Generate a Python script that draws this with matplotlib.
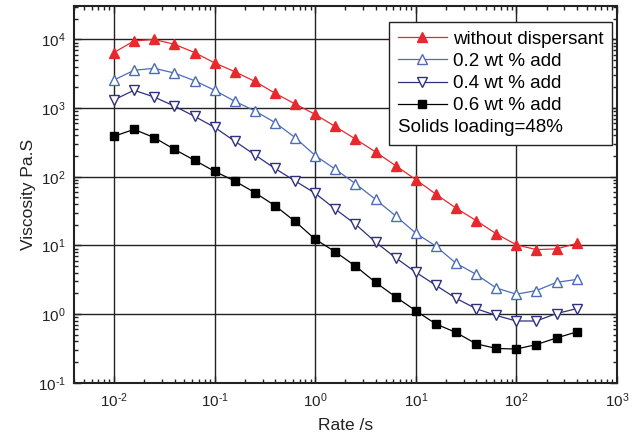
import matplotlib
matplotlib.use('Agg')
import matplotlib.pyplot as plt
from matplotlib.ticker import LogLocator, FuncFormatter
import numpy as np

plt.rcParams['font.family'] = ['Liberation Sans', 'DejaVu Sans']
plt.rcParams['axes.unicode_minus'] = False

# shear rate (1/s), 5 points per decade
rate = [0.01, 0.0158, 0.0251, 0.0398, 0.0631, 0.1, 0.158, 0.251, 0.398, 0.631,
        1, 1.58, 2.51, 3.98, 6.31, 10, 15.8, 25.1, 39.8, 63.1,
        100, 158, 251, 398]

# viscosity (Pa.s)
no_disp = [6450, 9500, 10000, 8500, 6450, 4550, 3400, 2450, 1650, 1150,
           810, 540, 355, 230, 145, 91, 56, 35, 23, 14.8,
           10.2, 8.7, 8.9, 10.7]
add_02 = [2570, 3550, 3800, 3240, 2510, 1820, 1260, 912, 617, 372,
          204, 129, 79.4, 46.8, 26.9, 15.1, 9.8, 5.5, 3.8, 2.4,
          1.95, 2.2, 2.9, 3.2]
add_04 = [1320, 1820, 1450, 1070, 759, 525, 331, 209, 132, 87,
          57.5, 33.9, 20.4, 11.2, 6.6, 4.07, 2.63, 1.70, 1.20, 0.955,
          0.794, 0.794, 1.02, 1.20]
add_06 = [389, 490, 372, 251, 174, 120, 87, 58.9, 38, 22.4,
          12.3, 8.1, 5.0, 2.9, 1.78, 1.12, 0.72, 0.54, 0.37, 0.316,
          0.31, 0.36, 0.45, 0.55]

labels = ['without dispersant', '0.2 wt % add', '0.4 wt % add', '0.6 wt % add']


def pow10_label(v, pos):
    # short hyphen for negative exponents
    e = int(round(np.log10(v)))
    return r'$\mathdefault{10^{%s}}$' % (str(e).replace('-', '\u2010'))


fig = plt.figure(figsize=(6.38, 4.41), dpi=100)
ax = fig.add_axes([0.116, 0.132, 0.851, 0.854])

ax.plot(rate, no_disp, color='#e8282d', lw=0.9, marker='^', ms=7,
        mfc='#e8282d', mec='#e8282d', label=labels[0])
ax.plot(rate, add_02, color='#4b6db5', lw=0.9, marker='^', ms=7,
        mfc='white', mec='#4b6db5', mew=1.0, label=labels[1])
ax.plot(rate, add_04, color='#303080', lw=0.9, marker='v', ms=7,
        mfc='white', mec='#303080', mew=1.0, label=labels[2])
ax.plot(rate, add_06, color='black', lw=0.9, marker='s', ms=5.8,
        mfc='black', mec='black', label=labels[3])

ax.set_xscale('log')
ax.set_yscale('log')
ax.set_xlim(0.004, 1000)
ax.set_ylim(0.1, 30500)

ax.xaxis.set_major_locator(LogLocator(base=10, numticks=20))
ax.yaxis.set_major_locator(LogLocator(base=10, numticks=20))
ax.xaxis.set_minor_locator(LogLocator(base=10, subs=range(2, 10), numticks=20))
ax.yaxis.set_minor_locator(LogLocator(base=10, subs=range(2, 10), numticks=20))
ax.xaxis.set_major_formatter(FuncFormatter(pow10_label))
ax.yaxis.set_major_formatter(FuncFormatter(pow10_label))

ax.grid(True, which='major', color='#222222', lw=1.0)
ax.set_axisbelow(True)

ax.tick_params(which='both', direction='in', top=True, right=True,
               labelsize=11, colors='#222222', width=1.0)
ax.tick_params(which='major', length=5, pad=6)
ax.tick_params(which='minor', length=3)
for sp in ax.spines.values():
    sp.set_linewidth(1.5)
    sp.set_color('#222222')

ax.set_xlabel('Rate /s', fontsize=12.5, color='#222222', labelpad=6)
ax.set_ylabel('Viscosity Pa.S', fontsize=12.5, color='#222222', labelpad=1)

leg = ax.legend(loc='upper right', bbox_to_anchor=(0.991, 0.9576),
                borderaxespad=0,
                fontsize=13.5, title='Solids loading=48%', title_fontsize=13.5,
                alignment='left', handlelength=2.6, handletextpad=0.35,
                labelspacing=0.27, borderpad=0.45, fancybox=False,
                framealpha=1, edgecolor='#222222')
leg.get_frame().set_linewidth(1.0)
# put the title line under the entries
leg._legend_box._children.reverse()

fig.savefig('out.png', dpi=100)
